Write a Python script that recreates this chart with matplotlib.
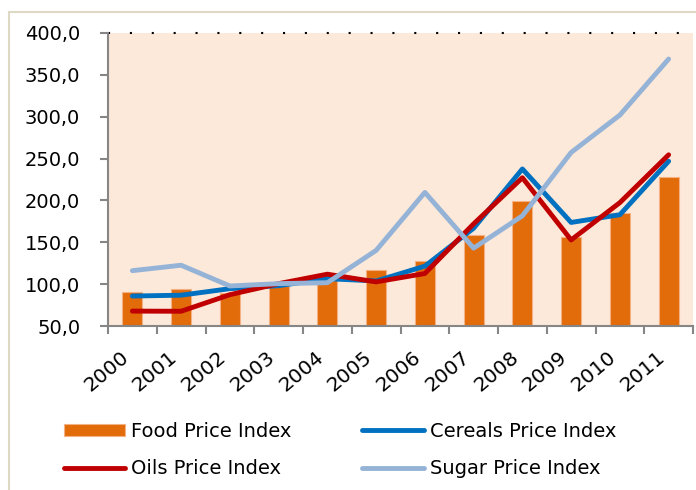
import matplotlib
matplotlib.use("Agg")
import matplotlib.pyplot as plt
from matplotlib.patches import Rectangle
import numpy as np

# FAO price indices (2002-2004 = 100)
years = ["2000", "2001", "2002", "2003", "2004", "2005",
         "2006", "2007", "2008", "2009", "2010", "2011"]
food = [91.1, 94.6, 89.6, 97.7, 112.7, 117.3, 127.2, 158.7, 199.8, 156.9, 185.3, 227.6]
cereals = [85.8, 86.8, 94.6, 98.2, 106.5, 103.8, 121.5, 166.8, 237.6, 173.7, 182.9, 246.8]
oils = [67.8, 67.6, 87.4, 100.6, 111.9, 102.7, 112.7, 172.0, 227.1, 152.8, 197.4, 254.5]
sugar = [116.1, 122.6, 97.8, 100.6, 101.7, 140.3, 209.6, 143.0, 181.6, 257.3, 302.0, 368.9]
yticks = [50, 100, 150, 200, 250, 300, 350, 400]

plt.rcParams['font.family'] = 'DejaVu Sans'
fig = plt.figure(figsize=(6.96, 4.90), dpi=100)

# outer chart frame
fig.patches.append(Rectangle((9/696, -0.01), 1.0, 1 - 12/490 + 0.01,
                             transform=fig.transFigure, fill=False,
                             edgecolor="#DDD9C4", linewidth=1.5))

ax = fig.add_axes([108/696, 1 - 326/490, 585/696, 293/490])
ax.set_facecolor("#FDE9D9")

x = np.arange(len(years))
bars = ax.bar(x, food, width=0.41, color="#E26B0A", edgecolor="#F4B183",
              linewidth=0.8, label="Food Price Index", zorder=2)
l_cer, = ax.plot(x, cereals, color="#0070C0", lw=3.5, label="Cereals Price Index",
                 solid_capstyle="round", zorder=3)
l_oil, = ax.plot(x, oils, color="#C00000", lw=3.5, label="Oils Price Index",
                 solid_capstyle="round", zorder=4)
l_sug, = ax.plot(x, sugar, color="#95B3D7", lw=3.5, label="Sugar Price Index",
                 solid_capstyle="round", zorder=5)

# dotted gridline at top
ax.axhline(400, color="black", lw=1.5, ls=(0, (1, 9.5)), zorder=1, clip_on=False)

ax.set_xlim(-0.5, len(years) - 0.5)
ax.set_ylim(50, 400)
ax.set_yticks(yticks)
ax.set_yticklabels([f"{v:.1f}".replace(".", ",") for v in yticks], fontsize=14)
ax.tick_params(axis="y", direction="out", length=6, color="#868686", width=1.5, pad=14)

# year labels sit slightly left of the category centre (hidden major ticks)
ax.set_xticks(x - 0.13)
ax.set_xticklabels(years, rotation=40, ha="right", va="center",
                   rotation_mode="anchor", fontsize=14.5)
ax.tick_params(axis="x", length=0, pad=21)
ax.set_xticks(np.arange(len(years) + 1) - 0.5, minor=True)
ax.tick_params(axis="x", which="minor", direction="out", length=6,
               color="#868686", width=1.5)

for s in ["top", "right"]:
    ax.spines[s].set_visible(False)
for s in ["left", "bottom"]:
    ax.spines[s].set_color("#868686")
    ax.spines[s].set_linewidth(1.5)

# legend: column 1 Food / Oils, column 2 Cereals / Sugar
fig.legend([bars, l_oil, l_cer, l_sug],
           ["Food Price Index", "Oils Price Index",
            "Cereals Price Index", "Sugar Price Index"],
           ncol=2, loc="upper left", bbox_to_anchor=(64/696, 1 - 422/490),
           borderaxespad=0, borderpad=0, frameon=False, fontsize=14,
           handlelength=3.15, handleheight=0.6, handletextpad=0.3,
           columnspacing=3.65, labelspacing=0.95)

fig.savefig("out.png", dpi=100)
